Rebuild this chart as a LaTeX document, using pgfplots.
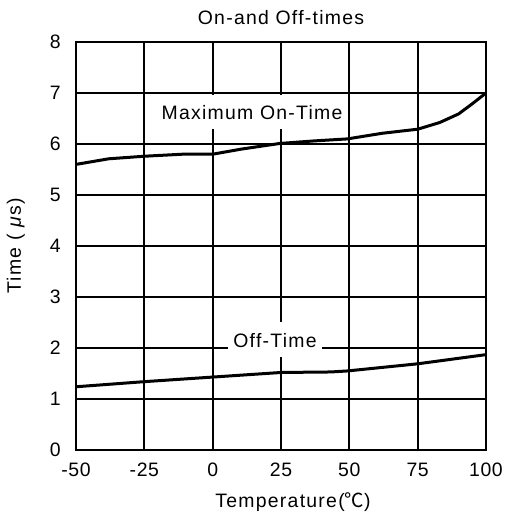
\documentclass[border=0pt]{standalone}
\usepackage{fontspec}
\setmainfont{Liberation Sans}[LetterSpace=6.5]
\newfontfamily\tickfont{Liberation Sans}[LetterSpace=3]
\newfontfamily\cjk{Noto Sans CJK SC}
\usepackage{pgfplots}
\pgfplotsset{compat=1.18}
\begin{document}
\fontsize{19.5}{21}\selectfont
\begin{tikzpicture}
\begin{axis}[
  scale only axis, width=410bp, height=408bp,
  xmin=-50, xmax=100, ymin=0, ymax=8,
  xtick={-50,-25,0,25,50,75,100}, ytick={0,1,2,3,4,5,6,7,8},
  grid=major, major grid style={black, line width=1.8bp},
  axis line style={black, line width=1.8bp},
  major tick length=0pt,
  /pgf/number format/assume math mode=true,
  tick label style={font=\tickfont\fontsize{19.5}{21}\selectfont},
  xticklabel style={anchor=base, yshift=-26.7bp, inner sep=0pt},
  yticklabel style={anchor=east, xshift=-15bp, inner sep=0pt},
  title={On-and Off-times},
  every axis title/.style={at={(axis description cs:0.5,1)}, anchor=base, yshift=17bp, inner sep=0pt, font=\fontsize{19.5}{21}\selectfont},
  xlabel={Temperature({\cjk ℃})},
  xlabel style={at={([xshift=12bp,yshift=-57.3bp]axis description cs:0.5,0)}, anchor=base, inner sep=0pt, font=\fontsize{19.5}{21}\selectfont},
  ylabel={Time ( \textit{μ}s)},
  ylabel style={at={([xshift=-55bp]axis description cs:0,0.5)}, anchor=base, inner sep=0pt, font=\fontsize{19.5}{21}\selectfont},
]
\addplot[black, line width=3bp, mark=none] coordinates {
  (-50,5.60) (-38,5.71) (-25,5.76) (-11,5.80) (0,5.80) (10.5,5.90)
  (24.5,6.01) (37,6.06) (49.3,6.10) (62,6.21) (75,6.29) (83,6.42)
  (90,6.59) (95,6.79) (100,7.0)
};
\addplot[black, line width=3bp, mark=none] coordinates {
  (-50,1.24) (-25,1.34) (0,1.43) (25,1.52) (43.2,1.53) (49.3,1.55)
  (75,1.69) (100,1.87)
};
\fill[white] (axis cs:-20.4,6.30) rectangle (axis cs:49.6,6.96);
\node[anchor=base, inner sep=0pt, font=\fontsize{19.5}{21}\selectfont] at (axis cs:14.4,6.48) {Maximum On-Time};
\fill[white] (axis cs:5.7,1.83) rectangle (axis cs:40.0,2.51);
\node[anchor=base, inner sep=0pt, font=\fontsize{19.5}{21}\selectfont] at (axis cs:22.8,2.0) {Off-Time};
\end{axis}
\pgfresetboundingbox
\path ([shift={(-76bp,-68bp)}]current axis.south west) rectangle ([shift={(19bp,42bp)}]current axis.north east);
\end{tikzpicture}
\end{document}
